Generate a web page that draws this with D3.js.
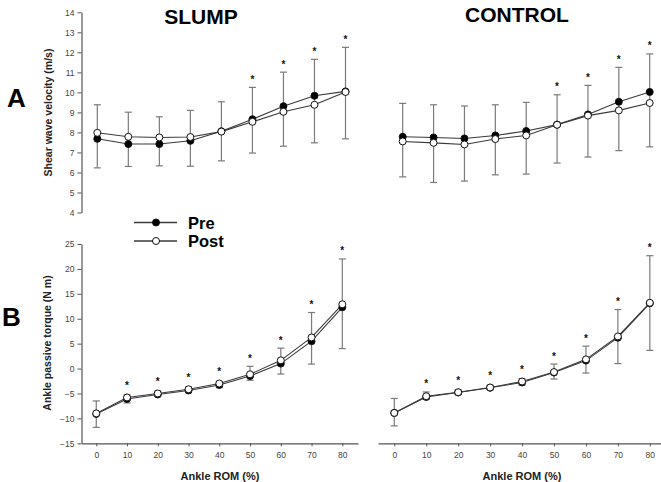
<!DOCTYPE html>
<html>
<head>
<meta charset="utf-8">
<script src="https://cdn.jsdelivr.net/npm/d3@7/dist/d3.min.js"></script>
<style>
  html, body { margin: 0; padding: 0; background: #fff; }
  svg { display: block; font-family: "Liberation Sans", Arial, sans-serif; }
</style>
</head>
<body>
<svg id="chart" width="661" height="482"></svg>
<script>
// ---------- data ----------
const romLevels = [0, 10, 20, 30, 40, 50, 60, 70, 80];
const groupTitles = ["SLUMP", "CONTROL"];
const seriesNames = ["Pre", "Post"];
const swvTicks = [4, 5, 6, 7, 8, 9, 10, 11, 12, 13, 14];
const torqueTicks = [-15, -10, -5, 0, 5, 10, 15, 20, 25];

// Shear wave velocity (m/s)
const slumpSwvPre   = [7.68, 7.42, 7.42, 7.58, 8.06, 8.66, 9.31, 9.83, 10.05];
const slumpSwvPost  = [7.98, 7.78, 7.75, 7.77, 8.04, 8.53, 9.03, 9.38, 10.02];
const slumpSwvUpper = [9.38, 9.01, 8.78, 9.10, 9.53, 10.25, 11.01, 11.65, 12.25];
const slumpSwvLower = [6.23, 6.30, 6.33, 6.31, 6.58, 6.97, 7.31, 7.48, 7.68];
const slumpSwvSig   = [50, 60, 70, 80];

const controlSwvPre   = [7.78, 7.75, 7.70, 7.85, 8.07, 8.39, 8.90, 9.53, 10.02];
const controlSwvPost  = [7.55, 7.48, 7.40, 7.67, 7.85, 8.38, 8.84, 9.10, 9.47];
const controlSwvUpper = [9.45, 9.38, 9.32, 9.38, 9.50, 9.88, 10.35, 11.25, 11.92];
const controlSwvLower = [5.78, 5.50, 5.57, 5.88, 5.92, 6.47, 6.77, 7.09, 7.28];
const controlSwvSig   = [50, 60, 70, 80];

// Ankle passive torque (N m)
const slumpTorquePre   = [-9.1, -6.1, -5.2, -4.4, -3.3, -1.5, 1.0, 5.5, 12.3];
const slumpTorquePost  = [-9.0, -5.8, -5.0, -4.15, -3.0, -1.15, 1.65, 6.25, 12.9];
const slumpTorqueUpper = [-6.5, -5.3, -4.5, -3.7, -2.6, 0.45, 4.1, 11.25, 22.0];
const slumpTorqueLower = [-11.8, -6.9, -5.6, -4.8, -3.8, -2.35, -1.1, 0.9, 4.0];
const slumpTorqueSig   = [10, 20, 30, 40, 50, 60, 70, 80];

const controlTorquePre   = [-8.9, -5.7, -4.8, -3.85, -2.8, -0.8, 1.6, 6.2, 13.1];
const controlTorquePost  = [-8.9, -5.55, -4.75, -3.8, -2.6, -0.7, 1.85, 6.45, 13.2];
const controlTorqueUpper = [-6.0, -4.7, -4.3, -3.4, -2.0, 0.9, 4.5, 11.85, 22.65];
const controlTorqueLower = [-11.5, -6.2, -5.2, -4.2, -3.3, -2.1, -0.9, 1.0, 3.65];
const controlTorqueSig   = [10, 20, 30, 40, 50, 60, 70, 80];

// ---------- drawing ----------
const svg = d3.select("#chart");
const FONT = '"Liberation Sans", Arial, sans-serif';
const LINE = "#3a3a3a", ERR = "#7a7a7a", AXIS = "#555", TICKTXT = "#444";

const ySwv = d3.scaleLinear().domain([4, 14]).range([212.5, 12.3]);
const yTorque = d3.scaleLinear().domain([-15, 25]).range([443.3, 244]);

const panels = [
  { pre: slumpSwvPre, post: slumpSwvPost, up: slumpSwvUpper, lo: slumpSwvLower, sig: slumpSwvSig,
    x: d3.scaleLinear().domain([0, 80]).range([97.3, 345.5]), y: ySwv },
  { pre: controlSwvPre, post: controlSwvPost, up: controlSwvUpper, lo: controlSwvLower, sig: controlSwvSig,
    x: d3.scaleLinear().domain([0, 80]).range([402.7, 649.7]), y: ySwv },
  { pre: slumpTorquePre, post: slumpTorquePost, up: slumpTorqueUpper, lo: slumpTorqueLower, sig: slumpTorqueSig,
    x: d3.scaleLinear().domain([-4.8, 85.1]).range([81.5, 358]), y: yTorque, xAxis: true },
  { pre: controlTorquePre, post: controlTorquePost, up: controlTorqueUpper, lo: controlTorqueLower, sig: controlTorqueSig,
    x: d3.scaleLinear().domain([-5.1, 83.5]).range([378, 661]), y: yTorque, xAxis: true }
];

function styleAxis(g, fs) {
  g.selectAll(".domain").attr("stroke", AXIS).attr("stroke-width", 1.2);
  g.selectAll(".tick line").attr("stroke", AXIS).attr("stroke-width", 1);
  g.selectAll(".tick text").attr("fill", TICKTXT).attr("font-size", fs).attr("font-family", FONT);
}

// Y axes (left panels only)
const gy1 = svg.append("g").attr("transform", "translate(81.5,0)")
  .call(d3.axisLeft(ySwv).tickValues(swvTicks).tickSize(4).tickPadding(3).tickSizeOuter(0));
styleAxis(gy1, 8.5);
const gy2 = svg.append("g").attr("transform", "translate(81.5,0)")
  .call(d3.axisLeft(yTorque).tickValues(torqueTicks).tickSize(4).tickPadding(3).tickSizeOuter(0));
styleAxis(gy2, 8.5);

panels.forEach(p => {
  if (p.xAxis) {
    const gx = svg.append("g").attr("transform", "translate(0,443.3)")
      .call(d3.axisBottom(p.x).tickValues(romLevels).tickSize(3).tickPadding(6).tickSizeOuter(0));
    styleAxis(gx, 8.5);
  }
});

panels.forEach(p => {
  const g = svg.append("g");
  const x = p.x, y = p.y;
  const idx = d3.range(romLevels.length);
  // error bars
  const eb = g.selectAll("g.eb").data(idx).join("g");
  eb.append("line")
    .attr("x1", i => x(romLevels[i])).attr("x2", i => x(romLevels[i]))
    .attr("y1", i => y(p.up[i])).attr("y2", i => y(p.lo[i]))
    .attr("stroke", ERR).attr("stroke-width", 1.2);
  eb.append("line")
    .attr("x1", i => x(romLevels[i]) - 3.5).attr("x2", i => x(romLevels[i]) + 3.5)
    .attr("y1", i => y(p.up[i])).attr("y2", i => y(p.up[i]))
    .attr("stroke", ERR).attr("stroke-width", 1.2);
  eb.append("line")
    .attr("x1", i => x(romLevels[i]) - 3.5).attr("x2", i => x(romLevels[i]) + 3.5)
    .attr("y1", i => y(p.lo[i])).attr("y2", i => y(p.lo[i]))
    .attr("stroke", ERR).attr("stroke-width", 1.2);

  // lines
  [p.pre, p.post].forEach(vals => {
    g.append("path")
      .datum(idx)
      .attr("fill", "none").attr("stroke", LINE).attr("stroke-width", 1.1)
      .attr("d", d3.line().x(i => x(romLevels[i])).y(i => y(vals[i])));
  });
  // markers: pre filled, post open (post on top)
  [[p.pre, "#000"], [p.post, "#fff"]].forEach(([vals, fill]) => {
    g.selectAll(null).data(idx).join("circle")
      .attr("cx", i => x(romLevels[i])).attr("cy", i => y(vals[i]))
      .attr("r", 3.5).attr("fill", fill).attr("stroke", "#111").attr("stroke-width", 1);
  });
  // significance asterisks
  g.selectAll(null).data(p.sig).join("text")
    .attr("x", r => x(r))
    .attr("y", r => {
      const i = romLevels.indexOf(r);
      const top = Math.min(y(p.up[i]), y(p.pre[i]) - 4, y(p.post[i]) - 4);
      return top - 10 + 5.5;
    })
    .attr("text-anchor", "middle").attr("font-size", 10).attr("font-weight", "bold")
    .attr("font-family", FONT).attr("fill", "#111").text("*");
});

// titles
svg.append("text").attr("x", 201).attr("y", 24).attr("text-anchor", "middle")
  .attr("font-size", 21).attr("font-weight", "bold").attr("font-family", FONT).text(groupTitles[0]);
svg.append("text").attr("x", 517).attr("y", 22).attr("text-anchor", "middle")
  .attr("font-size", 21).attr("font-weight", "bold").attr("font-family", FONT).text(groupTitles[1]);

// panel letters
svg.append("text").attr("x", 7).attr("y", 107).attr("font-size", 26).attr("font-weight", "bold")
  .attr("font-family", FONT).text("A");
svg.append("text").attr("x", 2).attr("y", 326).attr("font-size", 26).attr("font-weight", "bold")
  .attr("font-family", FONT).text("B");

// axis titles
svg.append("text").attr("transform", "translate(52,112.5) rotate(-90)").attr("text-anchor", "middle")
  .attr("font-size", 10.5).attr("font-weight", "bold").attr("font-family", FONT).attr("fill", "#222")
  .text("Shear wave velocity (m/s)");
svg.append("text").attr("transform", "translate(51,343) rotate(-90)").attr("text-anchor", "middle")
  .attr("font-size", 10.5).attr("font-weight", "bold").attr("font-family", FONT).attr("fill", "#222")
  .text("Ankle passive torque (N m)");
svg.append("text").attr("x", 220).attr("y", 480).attr("text-anchor", "middle")
  .attr("font-size", 11).attr("font-weight", "bold").attr("font-family", FONT).attr("fill", "#222")
  .text("Ankle ROM (%)");
svg.append("text").attr("x", 522).attr("y", 480).attr("text-anchor", "middle")
  .attr("font-size", 11).attr("font-weight", "bold").attr("font-family", FONT).attr("fill", "#222")
  .text("Ankle ROM (%)");

// legend
const legend = svg.append("g");
seriesNames.forEach((name, k) => {
  const ly = 222.5 + k * 18.5;
  legend.append("line").attr("x1", 134).attr("x2", 177).attr("y1", ly).attr("y2", ly)
    .attr("stroke", LINE).attr("stroke-width", 1.3);
  legend.append("circle").attr("cx", 156).attr("cy", ly).attr("r", 3.5)
    .attr("fill", k === 0 ? "#000" : "#fff").attr("stroke", "#111").attr("stroke-width", 1);
  legend.append("text").attr("x", 188).attr("y", ly + 6.2).attr("font-size", 16.5).attr("font-weight", "bold")
    .attr("font-family", FONT).text(name);
});
</script>
</body>
</html>
